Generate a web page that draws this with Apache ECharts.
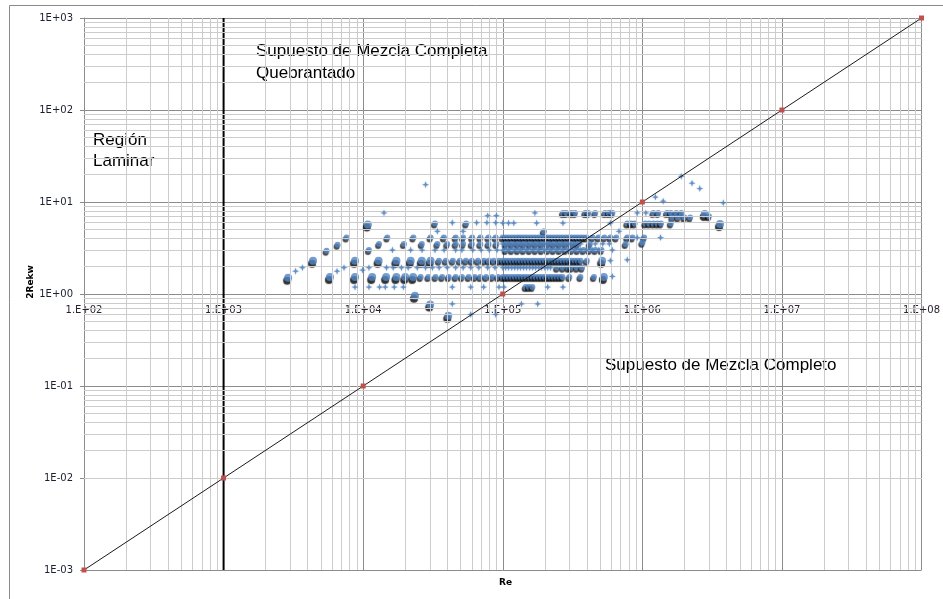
<!DOCTYPE html>
<html>
<head>
<meta charset="utf-8">
<script src="https://cdn.jsdelivr.net/npm/echarts@6/dist/echarts.min.js"></script>
<style>
html,body{margin:0;padding:0;background:#fff;}
#chart{width:943px;height:599px;}
</style>
</head>
<body>
<div id="chart"></div>
<script>
// ---------- Axis ticks ----------
const xDecades = [1e2, 1e3, 1e4, 1e5, 1e6, 1e7, 1e8];
const yDecades = [1e-3, 1e-2, 1e-1, 1e0, 1e1, 1e2, 1e3];

// ---------- Reference line 2Rekw = Re / 1e5 ----------
const refRe = [1e2, 1e3, 1e4, 1e5, 1e6, 1e7, 1e8];
const refY  = [1e-3, 1e-2, 1e-1, 1e0, 1e1, 1e2, 1e3];

// ---------- Laminar limit Re = 1000 ----------
const laminarRe = [1e3, 1e3];
const laminarY  = [1e-3, 1e3];

// ---------- Observations (Re, 2Rekw), large markers ----------
const largePts = [
  [2.9e3,1.5],[4.37e3,2.3],[5.78e3,1.53],[8.74e3,2.3],[8.74e3,1.53],[1.08e4,5.7],
  [1.16e4,1.53],[1.29e4,2.3],[1.46e4,1.53],[1.73e4,2.3],[2.19e4,2.3],[2.63e4,2.3],
  [3.04e4,2.3],[1.73e4,1.53],[2.0e4,1.53],[2.28e4,1.53],[2.35e4,0.96],[3.02e4,0.77],
  [4.07e4,0.58],[5.15e5,2.3],[5.3e5,1.53],[2.8e6,7.4],[3.6e6,5.75]
];

// ---------- Observations, medium markers ----------
const mediumPts = [
  [5.47e3,2.96],[6.56e3,3.43],[7.6e3,4.1],[1.1e4,3.0],[1.3e4,3.5],[1.49e4,4.1],
  [3.27e4,5.85],[5.47e4,5.85],[1.97e5,4.8],
  // 2Rekw ~ 4.1
  [2.29e4,4.1],[3.04e4,4.1],[3.79e4,4.1],[4.6e4,4.1],[5.2e4,4.1],[6.04e4,4.1],[6.93e4,4.1],
  [7.9e4,4.1],[8.9e4,4.1],[1.00e5,4.1],[1.05e5,4.1],[1.10e5,4.1],[1.16e5,4.1],[1.22e5,4.1],
  [1.28e5,4.1],[1.34e5,4.1],[1.41e5,4.1],[1.48e5,4.1],[1.56e5,4.1],[1.64e5,4.1],[1.72e5,4.1],
  [1.81e5,4.1],[1.90e5,4.1],[2.00e5,4.1],[2.10e5,4.1],[2.20e5,4.1],[2.31e5,4.1],[2.43e5,4.1],
  [2.55e5,4.1],[2.68e5,4.1],[2.82e5,4.1],[2.96e5,4.1],[3.11e5,4.1],[3.27e5,4.1],[3.43e5,4.1],
  [3.61e5,4.1],[3.79e5,4.1],[3.98e5,4.1],[4.4e5,4.1],[4.85e5,4.1],[5.35e5,4.1],[5.9e5,4.1],
  [6.5e5,4.1],[7.8e5,4.1],[8.5e5,4.1],[1.03e6,4.1],
  // ~ 3.5
  [1.96e4,3.5],[2.63e4,3.5],[3.4e4,3.5],[4.0e4,3.5],[4.6e4,3.5],[5.2e4,3.5],[6.0e4,3.5],
  [6.9e4,3.5],[7.9e4,3.5],[9.0e4,3.5],[1.05e5,3.5],[1.16e5,3.5],[1.28e5,3.5],[1.41e5,3.5],
  [1.56e5,3.5],[1.72e5,3.5],[1.90e5,3.5],[2.10e5,3.5],[2.31e5,3.5],[2.55e5,3.5],[2.82e5,3.5],
  [3.11e5,3.5],[3.43e5,3.5],[4.2e5,3.5],[7.6e5,3.5],[1.0e6,3.6],
  // ~ 3.0
  [1.05e5,3.0],[1.16e5,3.0],[1.28e5,3.0],[1.41e5,3.0],[1.56e5,3.0],[1.72e5,3.0],[1.90e5,3.0],
  [2.10e5,3.0],[2.31e5,3.0],[2.55e5,3.0],[2.82e5,3.0],[3.11e5,3.0],[3.43e5,3.0],[3.79e5,3.0],
  [4.18e5,3.0],[4.61e5,3.0],[5.1e5,3.0],
  // ~ 2.3
  [3.49e4,2.3],[3.91e4,2.3],[4.39e4,2.3],[4.93e4,2.3],[5.45e4,2.3],[6.0e4,2.3],[6.64e4,2.3],
  [7.33e4,2.3],[7.94e4,2.3],[8.6e4,2.3],[9.37e4,2.3],[1.00e5,2.3],[1.05e5,2.3],[1.10e5,2.3],
  [1.16e5,2.3],[1.22e5,2.3],[1.28e5,2.3],[1.34e5,2.3],[1.41e5,2.3],[1.48e5,2.3],[1.56e5,2.3],
  [1.64e5,2.3],[1.72e5,2.3],[1.81e5,2.3],[1.90e5,2.3],[2.00e5,2.3],[2.10e5,2.3],[2.20e5,2.3],
  [2.31e5,2.3],[2.43e5,2.3],[2.55e5,2.3],[2.68e5,2.3],[2.82e5,2.3],[2.96e5,2.3],[3.11e5,2.3],
  [3.27e5,2.3],[3.43e5,2.3],[3.61e5,2.3],[4.0e5,2.3],
  // ~ 1.93
  [2.45e5,1.93],[2.7e5,1.93],[2.95e5,1.93],[3.1e5,1.93],[3.4e5,1.93],[3.7e5,1.93],
  // ~ 1.53
  [2.58e4,1.53],[2.93e4,1.53],[3.3e4,1.53],[3.68e4,1.53],[4.1e4,1.53],[4.6e4,1.53],[5.1e4,1.53],
  [5.7e4,1.53],[6.3e4,1.53],[6.9e4,1.53],[7.6e4,1.53],[8.4e4,1.53],[9.25e4,1.53],[1.00e5,1.53],
  [1.05e5,1.53],[1.10e5,1.53],[1.16e5,1.53],[1.22e5,1.53],[1.28e5,1.53],[1.34e5,1.53],
  [1.41e5,1.53],[1.48e5,1.53],[1.56e5,1.53],[1.64e5,1.53],[1.72e5,1.53],[1.81e5,1.53],
  [1.90e5,1.53],[2.00e5,1.53],[2.10e5,1.53],[2.20e5,1.53],[2.31e5,1.53],[2.43e5,1.53],
  [2.55e5,1.53],[2.68e5,1.53],[3.0e5,1.53],[3.6e5,1.53],[4.5e5,1.53],
  // ~ 1.19
  [1.46e5,1.19],[1.54e5,1.19],[1.63e5,1.19],
  // upper rows
  [2.7e5,7.6],[2.85e5,7.6],[3.1e5,7.6],[3.3e5,7.6],[3.9e5,7.6],[4.1e5,7.6],[4.6e5,7.6],
  [5.4e5,7.6],[5.75e5,7.6],[6.1e5,7.6],[1.2e6,7.6],[1.3e6,7.6],[1.5e6,7.6],[1.6e6,7.6],
  [1.75e6,7.6],[1.9e6,7.6],[1.64e6,6.8],[1.8e6,6.8],[2.0e6,6.8],[2.2e6,6.8],[3.0e6,7.0],
  [7.8e5,5.85],[8.3e5,5.85],[8.8e5,5.85],[1.05e6,5.85],[1.12e6,5.85],[1.2e6,5.85],
  [1.28e6,5.85],[1.36e6,5.85],[1.6e6,5.85]
];

// ---------- Observations, small markers ----------
const smallPts = [
  [3.28e3,1.77],[3.67e3,1.93],[6.5e3,1.77],[7.29e3,1.93],[8.74e3,1.19],[9.9e3,1.82],
  [1.1e4,1.93],[1.1e4,1.19],[1.31e4,1.19],[1.41e4,7.6],[1.47e4,1.93],
  [2.8e4,15.4],[3.4e4,4.8],[5.2e4,4.8],[6.8e5,4.8],
  // ~ 5.9 / 7.1 / 7.6
  [4.35e4,5.95],[6.5e4,5.95],[7.7e4,5.95],[8.9e4,5.95],[1.0e5,5.9],[1.1e5,5.9],[1.2e5,5.9],
  [1.75e5,5.9],[2.7e5,5.9],[5.9e5,5.9],[7.8e4,7.1],[9.0e4,7.1],[1.7e5,7.6],[5.9e5,7.6],
  [9.2e5,7.6],[1.06e6,7.6],
  // ~ 3.5
  [1.00e5,3.5],[1.10e5,3.5],[1.22e5,3.5],[1.34e5,3.5],[1.48e5,3.5],[1.64e5,3.5],[1.81e5,3.5],
  [2.00e5,3.5],[2.20e5,3.5],[2.43e5,3.5],[2.68e5,3.5],[2.96e5,3.5],[3.27e5,3.5],[3.61e5,3.5],
  [4.6e5,3.5],[5.2e5,3.5],[5.8e5,3.5],[9.9e5,3.55],
  // ~ 3.0
  [1.62e4,3.0],[2.19e4,3.0],[2.64e4,3.0],[3.27e4,3.0],[3.8e4,3.0],[4.6e4,3.0],[5.1e4,3.0],
  [6.1e4,3.0],[7.0e4,3.0],[8.0e4,3.0],[9.1e4,3.0],[1.00e5,3.0],[1.10e5,3.0],[1.22e5,3.0],
  [1.34e5,3.0],[1.48e5,3.0],[1.64e5,3.0],[1.81e5,3.0],[2.00e5,3.0],[2.20e5,3.0],[2.43e5,3.0],
  [2.68e5,3.0],[2.96e5,3.0],[3.27e5,3.0],[3.61e5,3.0],[3.98e5,3.0],[4.39e5,3.0],[4.85e5,3.0],
  [6.1e5,3.0],
  // ~ 1.93
  [1.64e4,1.93],[1.88e4,1.93],[2.1e4,1.93],[2.44e4,1.93],[2.8e4,1.93],[3.13e4,1.93],[3.5e4,1.93],
  [4.0e4,1.93],[4.6e4,1.93],[5.2e4,1.93],[5.9e4,1.93],[6.74e4,1.93],[7.8e4,1.93],[8.8e4,1.93],
  [1.00e5,1.93],[1.05e5,1.93],[1.10e5,1.93],[1.16e5,1.93],[1.22e5,1.93],[1.28e5,1.93],
  [1.34e5,1.93],[1.41e5,1.93],[1.48e5,1.93],[1.56e5,1.93],[1.64e5,1.93],[1.72e5,1.93],
  [1.81e5,1.93],[1.90e5,1.93],[2.00e5,1.93],[2.10e5,1.93],[2.20e5,1.93],
  // ~ 1.19
  [1.44e4,1.19],[1.67e4,1.19],[1.94e4,1.19],[4.35e4,1.19],[5.9e4,1.19],[7.3e4,1.19],[9.4e4,1.19],
  [1.02e5,1.19],[2.1e5,1.19],[2.7e5,1.19],
  // low values
  [4.35e4,0.78],[5.9e4,0.6],[8.9e4,0.6],[1.36e5,0.78],[1.78e5,0.78],
  // right side
  [1.9e6,19],[2.27e6,16],[2.58e6,14],[1.24e6,11.3],[1.41e6,10.2],[3.8e6,9.8],[1.35e6,4.1],
  [9.2e5,4.1],[7.8e5,2.35],[5.9e5,2.3],[6.1e5,1.55]
];

// ---------- helpers ----------
function expOf(v){ return Math.round(Math.log10(v)); }
function pad2(n){ return (n < 10 ? '0' : '') + n; }
function xLabel(v){ const e = expOf(v); return '1.E' + (e < 0 ? '-' : '+') + pad2(Math.abs(e)); }
function yLabel(v){ const e = expOf(v); return '1E' + (e < 0 ? '-' : '+') + pad2(Math.abs(e)); }

// minor grid values (2..9 within each decade)
const minorX = [], minorY = [];
for (let i = 0; i < xDecades.length - 1; i++) for (let k = 2; k <= 9; k++) minorX.push({xAxis: xDecades[i] * k});
for (let i = 0; i < yDecades.length - 1; i++) for (let k = 2; k <= 9; k++) minorY.push({yAxis: +(yDecades[i] * k).toPrecision(3)});

const blue = '#4a7ebb';
const sparkle = 'path://M0,-10 L2.5,-2.5 L10,0 L2.5,2.5 L0,10 L-2.5,2.5 L-10,0 L-2.5,-2.5 Z';

const chart = echarts.init(document.getElementById('chart'), null, {renderer: 'canvas'});
chart.setOption({
  animation: false,
  backgroundColor: '#ffffff',
  grid: {left: 84, right: 19, top: 18, bottom: 29, containLabel: false},
  xAxis: {
    type: 'log', logBase: 10, min: 1e2, max: 1e8, interval: 1, splitNumber: 6,
    position: 'bottom', offset: -276,
    axisLine: {show: true, lineStyle: {color: '#8c8c8c', width: 1}},
    axisTick: {show: false},
    axisLabel: {formatter: xLabel, fontFamily: 'DejaVu Sans', fontSize: 10, color: '#2b2030', margin: 11},
    splitLine: {show: true, lineStyle: {color: '#8c8c8c', width: 1}}
  },
  yAxis: {
    type: 'log', logBase: 10, min: 1e-3, max: 1e3, interval: 1, splitNumber: 6,
    axisLine: {show: true, lineStyle: {color: '#8c8c8c', width: 1}},
    axisTick: {show: true, length: 4, inside: false, lineStyle: {color: '#8c8c8c'}},
    axisLabel: {formatter: yLabel, fontFamily: 'DejaVu Sans', fontSize: 10, color: '#1a2030', margin: 11},
    splitLine: {show: true, lineStyle: {color: '#8c8c8c', width: 1}}
  },
  series: [
    {
      type: 'scatter', name: 'minorGrid', data: [], silent: true, z: 1,
      markLine: {
        silent: true, symbol: 'none', animation: false,
        label: {show: false},
        lineStyle: {color: '#cccccc', width: 1, type: 'solid'},
        emphasis: {disabled: true},
        data: minorX.concat(minorY)
      }
    },
    {
      type: 'line', name: 'laminar', z: 3, silent: true,
      data: laminarRe.map((r, i) => [r, laminarY[i]]),
      symbol: 'none', lineStyle: {color: '#000000', width: 2}
    },
    {
      type: 'scatter', name: 'large', z: 4, silent: true,
      data: largePts, symbol: 'circle', symbolSize: 8,
      itemStyle: {color: '#5185c4', shadowColor: '#000000', shadowBlur: 1, shadowOffsetX: -1, shadowOffsetY: 3}
    },
    {
      type: 'scatter', name: 'medium', z: 4, silent: true,
      data: mediumPts, symbol: 'circle', symbolSize: 6,
      itemStyle: {color: '#5185c4', shadowColor: 'rgba(0,0,0,0.9)', shadowBlur: 1, shadowOffsetX: -1, shadowOffsetY: 2}
    },
    {
      type: 'scatter', name: 'small', z: 5, silent: true,
      data: smallPts, symbol: sparkle, symbolSize: 7,
      itemStyle: {color: blue, shadowColor: 'rgba(74,126,187,0.5)', shadowBlur: 2}
    },
    {
      type: 'line', name: 'reference', z: 6, silent: true,
      data: refRe.map((r, i) => [r, refY[i]]),
      symbol: 'rect', symbolSize: 5,
      itemStyle: {color: '#c0504d', borderWidth: 0},
      lineStyle: {color: '#1a1a1a', width: 1}
    }
  ],
  graphic: [
    {type: 'rect', silent: true, z: 0, shape: {x: 9.5, y: 5.5, width: 940, height: 600},
     style: {fill: 'none', stroke: '#8a8a8a', lineWidth: 1}},
    {type: 'text', silent: true, left: 256, top: 40,
     style: {text: 'Supuesto de Mezcla Completa\nQuebrantado', font: '17px "Liberation Sans", Arial, sans-serif', fill: '#000', lineHeight: 22}},
    {type: 'text', silent: true, left: 93, top: 130,
     style: {text: 'Región\nLaminar', font: '17px "Liberation Sans", Arial, sans-serif', fill: '#000', lineHeight: 21}},
    {type: 'text', silent: true, left: 605, top: 357,
     style: {text: 'Supuesto de Mezcla Completo', font: '17px "Liberation Sans", Arial, sans-serif', fill: '#000'}},
    {type: 'text', silent: true, left: 499, top: 578,
     style: {text: 'Re', font: 'bold 9px "DejaVu Sans", sans-serif', fill: '#000'}},
    {type: 'text', silent: true, x: 31, y: 282, rotation: Math.PI / 2,
     style: {text: '2Rekw', font: 'bold 9px "DejaVu Sans", sans-serif', fill: '#000', align: 'center', verticalAlign: 'middle'}}
  ]
});
</script>
</body>
</html>
